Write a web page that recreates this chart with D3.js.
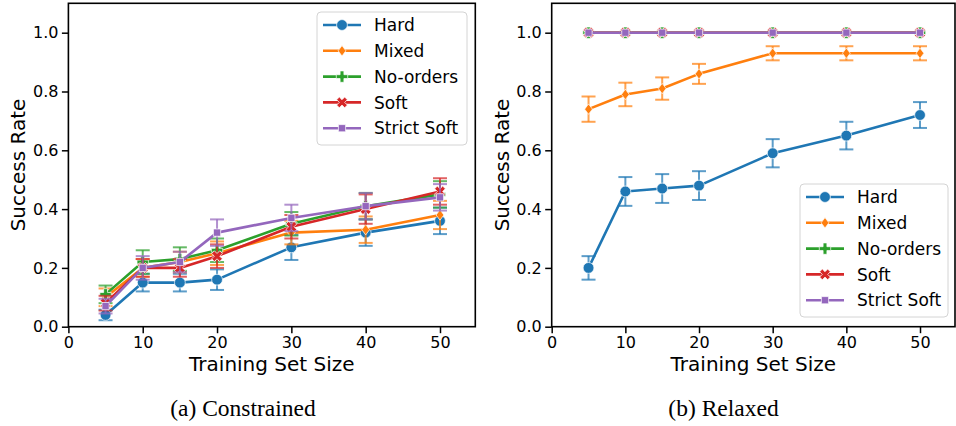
<!DOCTYPE html>
<html><head><meta charset="utf-8">
<script src="https://cdn.jsdelivr.net/npm/d3@7"></script>
<style>body{margin:0;background:#fff}svg{display:block}</style></head>
<body>
<script>
// ---------- data ----------
const sizes = [5, 10, 15, 20, 30, 40, 50];
const seriesNames = ["Hard", "Mixed", "No-orders", "Soft", "Strict Soft"];
const colors = ["#1f77b4", "#ff7f0e", "#2ca02c", "#d62728", "#9467bd"];
const markers = ["circle", "diamond", "plus", "x", "square"];
const xTicks = [0, 10, 20, 30, 40, 50];
const yTicks = [0, 0.2, 0.4, 0.6, 0.8, 1.0];
const captions = ["(a) Constrained", "(b) Relaxed"];

// (a) Constrained
const conHard        = [0.04, 0.15, 0.15, 0.16, 0.27, 0.32, 0.36];
const conHardErr     = [0.018, 0.03, 0.03, 0.035, 0.043, 0.045, 0.045];
const conMixed       = [0.10, 0.20, 0.22, 0.25, 0.32, 0.33, 0.38];
const conMixedErr    = [0.03, 0.03, 0.035, 0.04, 0.04, 0.045, 0.048];
const conNoOrders    = [0.11, 0.22, 0.23, 0.26, 0.35, 0.41, 0.45];
const conNoOrdersErr = [0.03, 0.04, 0.04, 0.04, 0.04, 0.045, 0.045];
const conSoft        = [0.08, 0.20, 0.20, 0.24, 0.34, 0.40, 0.46];
const conSoftErr     = [0.025, 0.03, 0.03, 0.04, 0.04, 0.05, 0.045];
const conStrict      = [0.07, 0.20, 0.22, 0.32, 0.37, 0.41, 0.44];
const conStrictErr   = [0.025, 0.04, 0.035, 0.045, 0.045, 0.045, 0.045];

// (b) Relaxed
const relHard        = [0.20, 0.46, 0.47, 0.48, 0.59, 0.65, 0.72];
const relHardErr     = [0.04, 0.049, 0.049, 0.049, 0.048, 0.047, 0.044];
const relMixed       = [0.74, 0.79, 0.81, 0.86, 0.93, 0.93, 0.93];
const relMixedErr    = [0.043, 0.04, 0.038, 0.034, 0.024, 0.024, 0.024];
const relNoOrders    = [1, 1, 1, 1, 1, 1, 1];
const relNoOrdersErr = [0, 0, 0, 0, 0, 0, 0];
const relSoft        = [1, 1, 1, 1, 1, 1, 1];
const relSoftErr     = [0, 0, 0, 0, 0, 0, 0];
const relStrict      = [1, 1, 1, 1, 1, 1, 1];
const relStrictErr   = [0, 0, 0, 0, 0, 0, 0];

const panels = [
  { values: [conHard, conMixed, conNoOrders, conSoft, conStrict],
    errors: [conHardErr, conMixedErr, conNoOrdersErr, conSoftErr, conStrictErr],
    x0: 68.4, x1: 475.3, legend: { x: 317, y: 12, w: 150, h: 133 }, caption: captions[0], capX: 243 },
  { values: [relHard, relMixed, relNoOrders, relSoft, relStrict],
    errors: [relHardErr, relMixedErr, relNoOrdersErr, relSoftErr, relStrictErr],
    x0: 551.7, x1: 955, legend: { x: 800, y: 184, w: 148, h: 133 }, caption: captions[1], capX: 723.5 }
];

// ---------- drawing ----------
const W = 956, H = 426;
const yTop = 3.3, yBot = 326.7;
const svg = d3.select("body").append("svg").attr("width", W).attr("height", H)
  .style("font-family", "'DejaVu Sans', sans-serif");

function markerPath(type) {
  if (type === "circle") return d3.symbol(d3.symbolCircle, 92)();
  if (type === "diamond") return "M0,-5.2L3.9,0L0,5.2L-3.9,0Z";
  if (type === "square") return d3.symbol(d3.symbolSquare, 52)();
  if (type === "plus") return d3.symbol(d3.symbolCross, 72)();
  if (type === "x") return d3.symbol(d3.symbolCross, 72)();
}
function markerRot(type) { return type === "x" ? 45 : 0; }

panels.forEach((p) => {
  const x = d3.scaleLinear().domain([0, 54.75]).range([p.x0, p.x1]);
  const y = d3.scaleLinear().domain([0, 1.1]).range([yBot, yTop]);
  const g = svg.append("g");

  // series
  p.values.forEach((vals, si) => {
    const col = colors[si];
    const errs = p.errors[si];
    const sg = g.append("g");
    // error bars
    sizes.forEach((s, i) => {
      if (errs[i] <= 0) return;
      const cx = x(s), lo = y(vals[i] - errs[i]), hi = y(vals[i] + errs[i]);
      const eb = sg.append("g").attr("stroke", col).attr("stroke-opacity", 0.72).attr("stroke-width", 2);
      eb.append("line").attr("x1", cx).attr("x2", cx).attr("y1", lo).attr("y2", hi);
      eb.append("line").attr("x1", cx - 7).attr("x2", cx + 7).attr("y1", lo).attr("y2", lo);
      eb.append("line").attr("x1", cx - 7).attr("x2", cx + 7).attr("y1", hi).attr("y2", hi);
    });
    // line
    const line = d3.line().x((d, i) => x(sizes[i])).y(d => y(d));
    sg.append("path").datum(vals).attr("d", line).attr("fill", "none")
      .attr("stroke", col).attr("stroke-width", 2.6).attr("stroke-linejoin", "round");
    // markers
    sg.selectAll(".m").data(vals).enter().append("path")
      .attr("d", markerPath(markers[si]))
      .attr("transform", (d, i) => `translate(${x(sizes[i])},${y(d)}) rotate(${markerRot(markers[si])})`)
      .attr("fill", col).attr("stroke", "#fff").attr("stroke-width", 0.7);
  });

  // axes
  const xAxis = d3.axisBottom(x).tickValues(xTicks).tickFormat(d3.format("d")).tickSize(6.5).tickPadding(3);
  const yAxis = d3.axisLeft(y).tickValues(yTicks).tickFormat(d3.format(".1f")).tickSize(6.5).tickPadding(3.5);
  const gx = svg.append("g").attr("transform", `translate(0,${yBot})`).call(xAxis);
  const gy = svg.append("g").attr("transform", `translate(${p.x0},0)`).call(yAxis);
  [gx, gy].forEach(a => {
    a.select(".domain").remove();
    a.selectAll("line").attr("stroke", "#000").attr("stroke-width", 1.5);
    a.selectAll("text").attr("fill", "#000").style("font-size", "16px").style("font-family", "'DejaVu Sans', sans-serif");
  });
  // frame
  svg.append("rect").attr("x", p.x0).attr("y", yTop).attr("width", p.x1 - p.x0).attr("height", yBot - yTop)
    .attr("fill", "none").attr("stroke", "#000").attr("stroke-width", 1.6);

  // labels
  svg.append("text").attr("x", (p.x0 + p.x1) / 2).attr("y", 371).attr("text-anchor", "middle")
    .style("font-size", "20px").attr("fill", "#000").text("Training Set Size");
  svg.append("text").attr("transform", `translate(${p.x0 - 50},165) rotate(-90)`).attr("text-anchor", "middle")
    .attr("dy", "0.35em").style("font-size", "20px").attr("fill", "#000").text("Success Rate");
  svg.append("text").attr("x", p.capX).attr("y", 416).attr("text-anchor", "middle")
    .style("font-family", "'Liberation Serif', 'Times New Roman', serif").style("font-size", "23.5px")
    .attr("fill", "#000").text(p.caption);

  // legend
  const L = p.legend;
  const lg = svg.append("g");
  lg.append("rect").attr("x", L.x).attr("y", L.y).attr("width", L.w).attr("height", L.h).attr("rx", 4)
    .attr("fill", "#fff").attr("fill-opacity", 0.8).attr("stroke", "#d4d4d4").attr("stroke-width", 1);
  seriesNames.forEach((name, si) => {
    const cy = L.y + 13 + si * 25.8;
    lg.append("line").attr("x1", L.x + 6).attr("x2", L.x + 44).attr("y1", cy).attr("y2", cy)
      .attr("stroke", colors[si]).attr("stroke-width", 2.6);
    lg.append("path").attr("d", markerPath(markers[si]))
      .attr("transform", `translate(${L.x + 25},${cy}) rotate(${markerRot(markers[si])})`)
      .attr("fill", colors[si]).attr("stroke", "#fff").attr("stroke-width", 0.7);
    lg.append("text").attr("x", L.x + 57).attr("y", cy).attr("dy", "0.36em")
      .style("font-size", "17px").attr("fill", "#000").text(name);
  });
});
</script>
</body></html>
